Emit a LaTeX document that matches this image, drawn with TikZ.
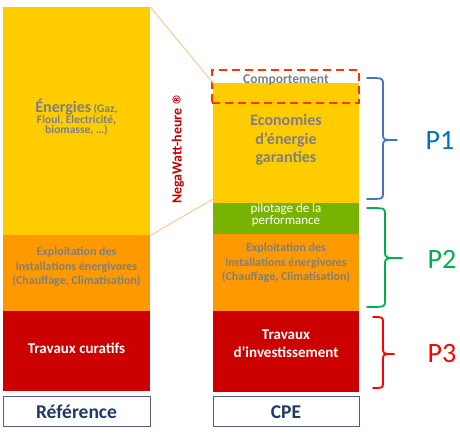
\documentclass[tikz,border=0pt]{standalone}
\usepackage{fontspec}
\setmainfont{Carlito}
\newfontfamily\dejavu{DejaVu Sans}
\definecolor{cyel}{HTML}{FFCC00}
\definecolor{corg}{HTML}{FF9900}
\definecolor{cred}{HTML}{CC0000}
\definecolor{cgrn}{HTML}{77B300}
\definecolor{cgray}{HTML}{7F7F7F}
\definecolor{cnavy}{HTML}{1F3864}
\definecolor{cframe}{HTML}{4F6080}
\definecolor{clink}{HTML}{F9C68A}
\definecolor{cnega}{HTML}{C00000}
\definecolor{cpone}{HTML}{0070C0}
\definecolor{cbone}{HTML}{4472C4}
\definecolor{cptwo}{HTML}{00B050}
\definecolor{cpthree}{HTML}{FF0000}
\definecolor{cdash}{HTML}{FF3300}
\newcommand{\fs}[2]{\fontsize{#1}{#2}\selectfont}
\tikzset{
  blk/.style={rectangle, inner sep=0pt, anchor=north west},
  lbl/.style={align=center, inner sep=0pt, font=\bfseries},
  caption/.style={rectangle, inner sep=0pt, anchor=north west, draw=cframe, line width=1.4pt, fill=white,
    text=cnavy, font=\bfseries\fs{19}{22}},
  link/.style={draw=clink, line width=0.9pt},
  bracebase/.style={line width=1.8pt, line join=round, line cap=round},
}
\begin{document}
\begin{tikzpicture}[x=1pt,y=-1pt]
\useasboundingbox (0,0) rectangle (460,445);
% left column
\node[blk, fill=cyel, minimum width=147pt, minimum height=228pt] (ly) at (3,7) {};
\node[blk, fill=corg, minimum width=147pt, minimum height=76pt] (lo) at (3,235) {};
\node[blk, fill=cred, minimum width=147pt, minimum height=80pt] (lr) at (3,311) {};
\node[caption, minimum width=147pt, minimum height=30pt] (lref) at (3,396) {};
\node[lbl, text=cgray] (tly) at (76.5,117) {{\fs{16}{17}Énergies} {\fs{11.5}{14}(Gaz,}\\[-1pt]{\fs{11.5}{14}Fioul, Electricité,}\\[-2pt]{\fs{11.5}{14}biomasse, …)}};
\node[lbl, text=cgray, font=\bfseries\fs{12}{14.7}] (tlo) at (76.5,267) {Exploitation des\\installations énergivores\\(Chauffage, Climatisation)};
\node[lbl, text=white, font=\bfseries\fs{15}{18}] (tlr) at (76.5,348) {Travaux curatifs};
\node[lbl, text=cnavy, font=\bfseries\fs{19.5}{22}] (tref) at (76.5,412) {Référence};
% right column
\node[blk, fill=cyel, minimum width=146pt, minimum height=120pt] (ry) at (213,83) {};
\node[blk, fill=cgrn, minimum width=146pt, minimum height=31pt] (rg) at (213,203) {};
\node[blk, fill=corg, minimum width=146pt, minimum height=77pt] (ro) at (213,234) {};
\node[blk, fill=cred, minimum width=146pt, minimum height=81pt] (rr) at (213,311) {};
\node[caption, minimum width=146pt, minimum height=30pt] (rcpe) at (213,396) {};
\node[blk, draw=cdash, line width=2.4pt, dash pattern=on 8pt off 5pt, minimum width=147pt, minimum height=33pt] (dash) at (211,69) {};
\node[lbl, text=cgray, font=\bfseries\fs{13.5}{14}] (tcomp) at (286,80) {Comportement};
\node[lbl, text=cgray, font=\bfseries\fs{16}{18.5}] (try) at (286,140) {Economies\\d’énergie\\garanties};
\node[lbl, text=white, font=\fs{13}{12.5}] (trg) at (286,215) {pilotage de la\\performance};
\node[lbl, text=cgray, font=\bfseries\fs{12}{14.7}] (tro) at (286,263) {Exploitation des\\installations énergivores\\(Chauffage, Climatisation)};
\node[lbl, text=white, font=\bfseries\fs{15}{18}] (trr) at (286,344) {Travaux\\d’investissement};
\node[lbl, text=cnavy, font=\bfseries\fs{19.5}{22}] (tcpe) at (286,412) {CPE};
% links
\coordinate (lk) at (213,199);
\draw[link] (ly.north east) -- (ry.north west);
\draw[link] (ly.south east) -- (lk);
% NegaWatt
\node[lbl, text=cnega, rotate=90, font=\bfseries\fs{14}{16}] (nega) at (178,149) {NegaWatt-heure {\dejavu\fs{11}{12}\raisebox{1pt}{®}}};
% braces
\coordinate (b1a) at (367,78);
\coordinate (b1b) at (367,199);
\draw[bracebase, draw=cbone] (b1a) .. controls (383,78) .. (383,84) -- (383,134) .. controls (383,140) .. (397,140) .. controls (383,140) .. (383,146) -- (383,193) .. controls (383,199) .. (b1b);
\coordinate (b2a) at (367,208);
\coordinate (b2b) at (367,307);
\draw[bracebase, draw=cptwo] (b2a) .. controls (385,208) .. (385,214) -- (385,252) .. controls (385,258) .. (402,258) .. controls (385,258) .. (385,264) -- (385,301) .. controls (385,307) .. (b2b);
\coordinate (b3a) at (373,317);
\coordinate (b3b) at (373,388);
\draw[bracebase, draw=cpthree] (b3a) .. controls (383,317) .. (383,323) -- (383,348) .. controls (383,354) .. (394,354) .. controls (383,354) .. (383,360) -- (383,382) .. controls (383,388) .. (b3b);
\node[text=cpone, font=\fs{28}{30}, inner sep=0pt] (p1) at (440,140) {P1};
\node[text=cptwo, font=\fs{28}{30}, inner sep=0pt] (p2) at (442,259) {P2};
\node[text=cpthree, font=\fs{28}{30}, inner sep=0pt] (p3) at (442,354) {P3};
\end{tikzpicture}
\end{document}
